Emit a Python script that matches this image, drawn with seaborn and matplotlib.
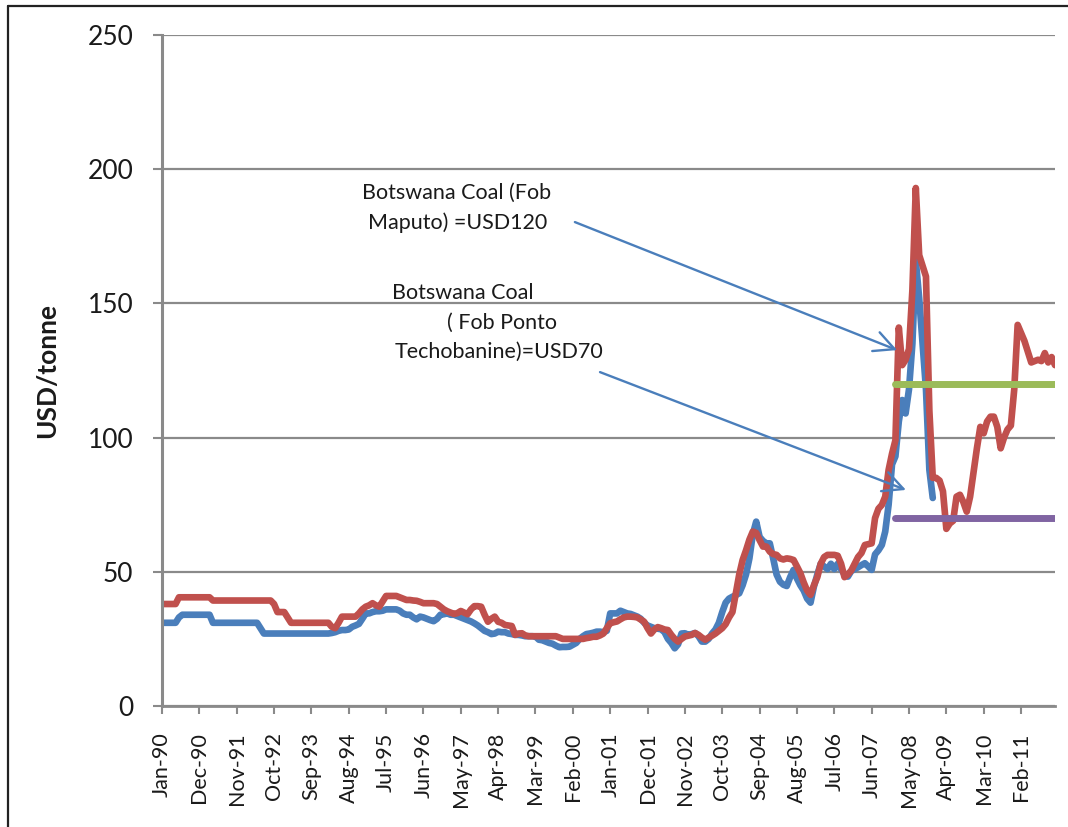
import numpy as np
import pandas as pd
import matplotlib.pyplot as plt
import matplotlib.lines as mlines
import seaborn as sns

sns.set_theme(style="white")
plt.rcParams['font.family'] = ['Lato', 'DejaVu Sans']

# Monthly coal prices (USD/tonne), Jan-90 .. Dec-11
blue_price = [
    31, 31, 31, 31, 31, 33, 34, 34, 34, 34, 34, 34,                      # 1990
    34, 34, 34, 31, 31, 31, 31, 31, 31, 31, 31, 31,                      # 1991
    31, 31, 31, 31, 31, 29, 27, 27, 27, 27, 27, 27,                      # 1992
    27, 27, 27, 27, 27, 27, 27, 27, 27, 27, 27, 27,                      # 1993
    27, 27, 27.2, 27.5, 28, 28.3, 28.3, 28.5, 29.5, 30, 30.6, 32.5,      # 1994
    34.5, 34.5, 35, 35.3, 35.3, 35.5, 36, 36, 36, 36, 35.5, 34.5,        # 1995
    34, 34, 33, 32.3, 33.3, 33, 32.5, 32, 31.6, 32.5, 34, 34.2,          # 1996
    34.5, 34, 34, 33.5, 33, 32.5, 32, 31.5, 30.8, 30, 29, 28,            # 1997
    27.5, 26.8, 27, 27.7, 27.5, 27.5, 27, 26.8, 26.5, 26.5, 26.3, 26,    # 1998
    26, 26, 25.9, 24.7, 24.5, 24, 23.5, 23.2, 22.5, 21.9, 22, 22,        # 1999
    22.1, 22.8, 23.5, 25, 26, 26.8, 27, 27.3, 27.7, 27.7, 27.5, 28,      # 2000
    34.5, 34.5, 34.5, 35.5, 35, 34.5, 34.3, 33.8, 33.3, 32.5, 31, 30,    # 2001
    29.5, 29, 28.8, 28.6, 27.5, 25, 23.5, 21.5, 23, 27, 27.1, 26.5,      # 2002
    26.8, 27.2, 26, 24, 24, 25, 27, 28.5, 31, 35, 38.5, 40,              # 2003
    40.7, 41.3, 42, 45, 49, 55, 64, 68.7, 63, 61.5, 60.6, 60.6,          # 2004
    55, 49, 46.3, 45.2, 44.7, 48, 50.7, 47.5, 45, 43, 40, 38.5,          # 2005
    44.5, 49, 53, 52, 51, 53, 51, 53, 51, 49, 48.2, 50.3,                # 2006
    51, 51.7, 52.5, 53.2, 52, 50.7, 56.5, 58, 60, 65, 75, 90,            # 2007
    93, 106, 114, 109, 118, 135, 166, 152, 135, 118, 88, 77.5,           # 2008
]

red_price = [
    38, 38, 38, 38, 38, 40.5, 40.5, 40.5, 40.5, 40.5, 40.5, 40.5,        # 1990
    40.5, 40.5, 40.5, 39.3, 39.3, 39.3, 39.3, 39.3, 39.3, 39.3, 39.3, 39.3,  # 1991
    39.3, 39.3, 39.3, 39.3, 39.3, 39.3, 39.3, 39.3, 39.3, 38, 35, 35,    # 1992
    35, 33, 31, 31, 31, 31, 31, 31, 31, 31, 31, 31,                      # 1993
    31, 31, 29.5, 29, 31, 33.3, 33.3, 33.3, 33.3, 33.3, 34.5, 36,        # 1994
    37, 37.5, 38.3, 37.5, 37, 39, 41, 41, 41, 41, 40.5, 40,              # 1995
    39.5, 39.5, 39.3, 39.2, 38.8, 38.3, 38.3, 38.3, 38.3, 38, 37, 36,    # 1996
    35.3, 34.8, 34.3, 34.6, 35.4, 34.8, 34.2, 36, 37.2, 37.2, 37, 34,    # 1997
    31.4, 32.5, 33.3, 31.4, 31, 30.2, 30, 29.8, 26.5, 27, 27.1, 26.3,    # 1998
    26, 26, 26, 26, 26, 26, 26, 26, 26, 25.5, 25, 25,                    # 1999
    25, 25, 25, 25, 25, 25.3, 25.5, 25.8, 25.8, 26.3, 27, 29,            # 2000
    30.8, 31.2, 31.5, 32.3, 33, 33.3, 33.3, 33.2, 33, 32.2, 31.4, 29,    # 2001
    27, 28.5, 29.4, 29, 28.5, 28.3, 26.5, 25, 24, 25, 25.9, 26.2,        # 2002
    26.5, 27.2, 26.5, 25.5, 24.7, 25.5, 26.2, 27, 28, 29, 30.5, 33,      # 2003
    35, 42, 49, 54.4, 58, 62, 65, 64.5, 61.8, 59.4, 59.4, 57.5,          # 2004
    56.6, 56.3, 55, 54.6, 55, 54.8, 54.4, 52, 49.5, 46, 43, 41.4,        # 2005
    45, 48, 53, 55.5, 56.3, 56.3, 56.3, 56, 53, 48, 49, 50.5,            # 2006
    53, 55.5, 57, 60, 60.3, 60.6, 70, 73.5, 74.9, 78, 88, 94,            # 2007
    99, 141, 127, 129, 133, 155, 193, 168, 164, 160, 110, 85,            # 2008
    85, 84, 80, 66, 68, 69, 78, 78.7, 76, 72.4, 78, 87,                  # 2009
    96, 104, 101.6, 106, 107.8, 107.8, 104, 96, 100, 103, 104.5, 118,    # 2010
    142, 139, 136, 132, 128, 128.5, 129, 128.5, 131.5, 128, 130, 127,    # 2011
]

# Botswana coal benchmark prices, drawn from Jan-08 to Dec-11
bench_span = [216, 263]
maputo_price = [120, 120]
ponto_price = [70, 70]

month_labels = pd.date_range('1990-01-01', periods=len(red_price), freq='MS').strftime('%b-%y').tolist()

BLUE = '#4A7EBB'
RED = '#C0504D'
GREEN = '#9BBB59'
PURPLE = '#8064A2'
GRID = '#8A8A8A'

df = pd.DataFrame({
    'idx': np.arange(len(red_price)),
    'blue': blue_price + [np.nan] * (len(red_price) - len(blue_price)),
    'red': red_price,
})

fig = plt.figure(figsize=(10.68, 8.27), dpi=100)
ax = fig.add_axes([162 / 1068, 1 - 706 / 827, (1055 - 162) / 1068, (706 - 35) / 827])

line_kw = dict(solid_capstyle='round', solid_joinstyle='round')
sns.lineplot(data=df.dropna(), x='idx', y='blue', color=BLUE, linewidth=4.8, ax=ax, **line_kw)
sns.lineplot(data=df, x='idx', y='red', color=RED, linewidth=4.8, ax=ax, **line_kw)
sns.lineplot(x=bench_span, y=maputo_price, color=GREEN, linewidth=5, ax=ax, **line_kw)
sns.lineplot(x=bench_span, y=ponto_price, color=PURPLE, linewidth=5, ax=ax, **line_kw)

ax.set_xlim(0, len(red_price) - 1)
ax.set_ylim(0, 250)
ax.set_yticks(range(0, 251, 50))
ax.set_xticks(range(0, len(red_price), 11))
ax.set_xticklabels(month_labels[::11], rotation=90)
ax.set_xlabel('')
ax.set_ylabel('')

ax.yaxis.grid(True, color=GRID, linewidth=1.6)
ax.xaxis.grid(False)
ax.set_axisbelow(True)
for side in ['top', 'right']:
    ax.spines[side].set_visible(False)
ax.spines['left'].set_color(GRID)
ax.spines['left'].set_linewidth(2.2)
ax.spines['bottom'].set_color(GRID)
ax.spines['bottom'].set_linewidth(2)

ax.tick_params(axis='y', which='major', left=True, length=6.5, width=1.5, color=GRID,
               pad=14, labelsize=19, labelcolor='#1a1a1a')
ax.tick_params(axis='x', which='major', bottom=True, length=6, width=1.5, color=GRID,
               pad=13, labelsize=15.5, labelcolor='#1a1a1a')

fig.text(47 / 1068, 1 - 370 / 827, 'USD/tonne', rotation=90, fontsize=19,
         fontweight='bold', ha='center', va='center', color='#1a1a1a')

# annotations
txt_kw = dict(fontsize=15.5, color='#1a1a1a', ha='left', va='center')
ax.text(58.9, 191.1, 'Botswana Coal (Fob', **txt_kw)
ax.text(60.7, 180.0, 'Maputo) =USD120', **txt_kw)
ax.text(67.7, 153.9, 'Botswana Coal', **txt_kw)
ax.text(83.9, 142.7, '( Fob Ponto', **txt_kw)
ax.text(68.6, 131.9, 'Techobanine)=USD70', **txt_kw)

arrow_kw = dict(arrowstyle='->,head_length=0.5,head_width=0.25', color=BLUE,
                lw=1.7, mutation_scale=29, shrinkA=0, shrinkB=0)
ax.annotate('', xy=(216.5, 132.6), xytext=(121.6, 180.3), arrowprops=arrow_kw)
ax.annotate('', xy=(219.1, 80.5), xytext=(129.0, 124.4), arrowprops=arrow_kw)

# outer frame (left and top edges visible)
fx = 8 / 1068
fy = 1 - 6 / 827
fig.add_artist(mlines.Line2D([fx, fx], [0, fy], color='#222222', lw=1.6, transform=fig.transFigure))
fig.add_artist(mlines.Line2D([fx, 1], [fy, fy], color='#222222', lw=1.6, transform=fig.transFigure))

fig.savefig('out.png', dpi=100)
plt.close(fig)
